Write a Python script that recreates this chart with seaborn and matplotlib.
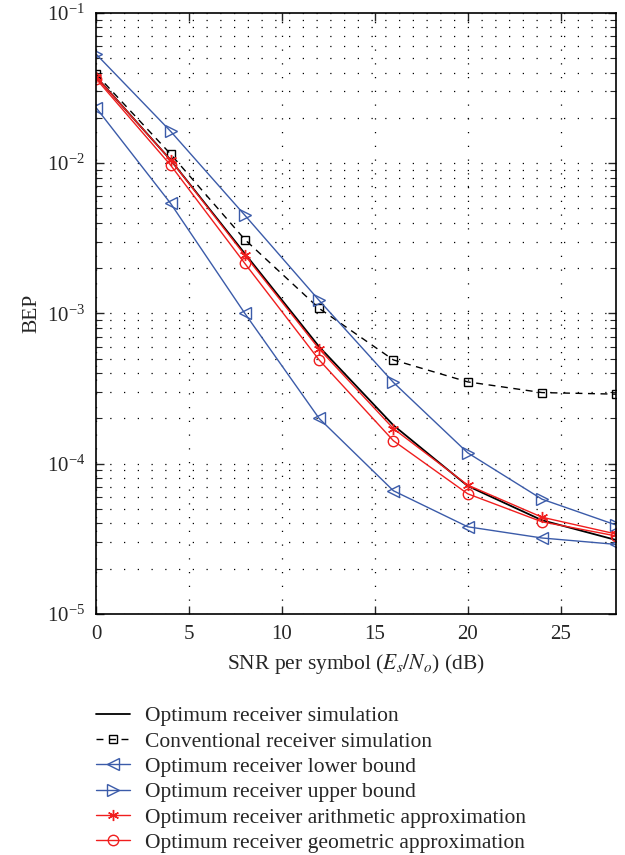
import numpy as np
import pandas as pd
import matplotlib
matplotlib.use('Agg')
import matplotlib.pyplot as plt
import seaborn as sns
from matplotlib.ticker import LogLocator, NullFormatter, FixedLocator

snr = [0, 4, 8, 12, 16, 20, 24, 28]
opt_sim = [0.0375, 0.0105, 2.5e-3, 6.0e-4, 1.8e-4, 7.1e-5, 4.2e-5, 3.1e-5]
conv_sim = [0.039, 0.0115, 3.1e-3, 1.08e-3, 4.9e-4, 3.5e-4, 2.97e-4, 2.9e-4]
lower_bd = [0.0233, 5.4e-3, 1.0e-3, 2.0e-4, 6.6e-5, 3.8e-5, 3.2e-5, 2.9e-5]
upper_bd = [0.053, 0.0163, 4.5e-3, 1.22e-3, 3.47e-4, 1.18e-4, 5.8e-5, 3.9e-5]
arith = [0.0374, 0.0105, 2.44e-3, 5.8e-4, 1.71e-4, 7.2e-5, 4.4e-5, 3.4e-5]
geom = [0.0363, 0.0097, 2.15e-3, 4.9e-4, 1.42e-4, 6.3e-5, 4.1e-5, 3.3e-5]

labels = ['Optimum receiver simulation',
          'Conventional receiver simulation',
          'Optimum receiver lower bound',
          'Optimum receiver upper bound',
          'Optimum receiver arithmetic approximation',
          'Optimum receiver geometric approximation']

blue = '#3b5ba9'
red = '#f01e1e'

def main():
    sns.set_style('ticks')
    plt.rcParams['font.family'] = ['Liberation Serif', 'DejaVu Serif']
    plt.rcParams['mathtext.fontset'] = 'stix'
    plt.rcParams['font.size'] = 15

    fig = plt.figure(figsize=(6.25, 8.55), dpi=100)
    ax = fig.add_axes([0.154, 0.282, 0.832, 0.703])

    series = [
        (opt_sim, dict(color='black', linestyle='-', marker=None, lw=1.3)),
        (conv_sim, dict(color='black', linestyle=(0, (5, 4)), marker='s', ms=6, lw=1.0)),
        (lower_bd, dict(color=blue, linestyle='-', marker='<', ms=8, lw=1.0)),
        (upper_bd, dict(color=blue, linestyle='-', marker='>', ms=8, lw=1.0)),
        (arith, dict(color=red, linestyle='-', marker=(6, 2, 0), ms=8, lw=1.0)),
        (geom, dict(color=red, linestyle='-', marker='o', ms=7.5, lw=1.0)),
    ]
    for (vals, kw), lab in zip(series, labels):
        mk = kw.pop('marker')
        ms = kw.pop('ms', 6)
        lw = kw.pop('lw')
        extra = {}
        if mk is not None:
            extra = dict(marker=mk, markersize=ms, markeredgecolor=kw['color'],
                         markeredgewidth=1.0, markerfacecolor='none')
        sns.lineplot(x=snr, y=vals, ax=ax, label=lab, linewidth=lw, **kw, **extra)

    ax.set_yscale('log')
    ax.set_xlim(0, 28)
    ax.set_ylim(1e-5, 1e-1)
    ax.xaxis.set_major_locator(FixedLocator([0, 5, 10, 15, 20, 25]))
    ax.yaxis.set_major_locator(LogLocator(base=10, numticks=10))
    ax.yaxis.set_minor_locator(LogLocator(base=10, subs=np.arange(2, 10), numticks=20))
    ax.yaxis.set_minor_formatter(NullFormatter())
    ax.tick_params(which='both', direction='in', top=True, right=True)
    ax.tick_params(which='major', length=6, width=1.0, labelsize=15, pad=8)
    ax.tick_params(which='minor', length=4, width=0.8)
    ax.grid(True, which='major', axis='x', color='black', linestyle=(0, (1, 10)), linewidth=0.9)
    ax.grid(True, which='both', axis='y', color='black', linestyle=(0, (1, 10)), linewidth=0.9)
    for s in ax.spines.values():
        s.set_linewidth(1.2)
        s.set_color('black')

    ax.set_xlabel('SNR per symbol ($E_s/N_o$) (dB)', fontsize=15.5, labelpad=6)
    ax.set_ylabel('BEP', fontsize=15.5, labelpad=4)

    ax.legend(loc='upper left', bbox_to_anchor=(0.153, 0.174), bbox_transform=fig.transFigure,
              frameon=False, fontsize=15.5, handlelength=1.6, handletextpad=0.7,
              labelspacing=0.245, borderpad=0, borderaxespad=0)

    fig.savefig('out.png', dpi=100)

if __name__ == '__main__':
    main()
